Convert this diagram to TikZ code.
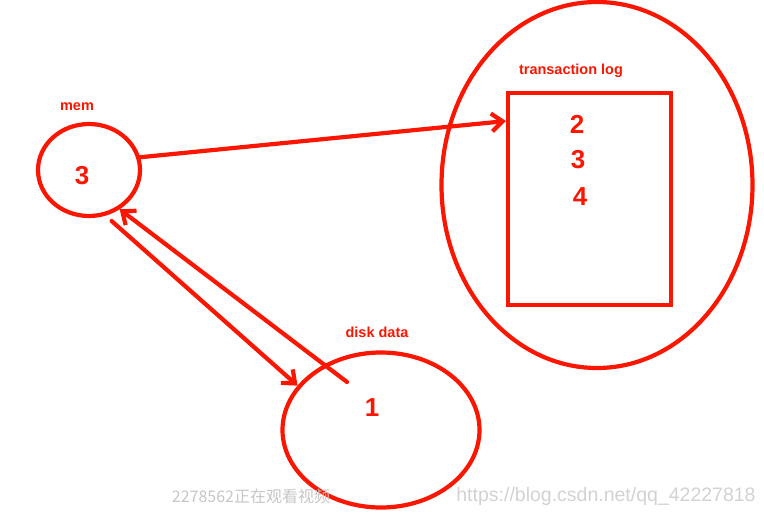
\documentclass[tikz,border=0pt]{standalone}
\usepackage{fontspec}
\setmainfont{Liberation Sans}
\newfontfamily\cjkfont{Noto Sans CJK SC}
\usetikzlibrary{shapes.geometric,arrows.meta}
\definecolor{ink}{RGB}{250,22,0}

\begin{document}
\begin{tikzpicture}[x=1pt, y=-1pt,
  every node/.style={text=ink, font=\bfseries\fontsize{14.5}{17}\selectfont},
  ring/.style={draw=ink, line width=4.2pt, ellipse, inner sep=0pt},
  digit/.style={font=\bfseries\fontsize{26}{28}\selectfont},
  arr/.style={draw=ink, line width=4.2pt, line cap=round, -{Straight Barb[length=11pt, width=18pt]}}]
  \useasboundingbox (0,0) rectangle (764,515);

  % Memory
  \node[ring, minimum width=102, minimum height=92] (mem) at (89,170) {};
  \node (memlabel) at (77,107) {mem};
  \node[digit] (memval) at (82,176) {3};

  % Transaction log with its record box
  \node[ring, minimum width=311, minimum height=366] (log) at (597,185) {};
  \node[draw=ink, line width=4.2pt, minimum width=163, minimum height=212, inner sep=0pt] (box) at (589.5,199) {};
  \node (loglabel) at (571,71) {transaction log};
  \node[digit] (rec2) at (577,124) {2};
  \node[digit] (rec3) at (578,160) {3};
  \node[digit] (rec4) at (580,197) {4};

  % Disk data
  \node[ring, minimum width=197, minimum height=155] (disk) at (381,430) {};
  \node (disklabel) at (377,332) {disk data};
  \node[digit] (diskval) at (372,408) {1};
  \coordinate (flush) at (347,382);

  % Arrows between memory, log and disk
  \draw[arr] (mem.14) -- (box.137);
  \draw[arr, shorten <=8pt] (mem.-70) -- (disk.152);
  \draw[arr] (flush) -- (mem.-52);

  % Screen overlays
  \node[text=gray!45, font=\cjkfont\fontsize{16}{18}\selectfont] (viewers) at (251,496) {2278562正在观看视频};
  \node[text=gray!35, font=\fontsize{19.5}{21}\selectfont] (url) at (606,496) {https://blog.csdn.net/qq\_42227818};
\end{tikzpicture}
\end{document}
